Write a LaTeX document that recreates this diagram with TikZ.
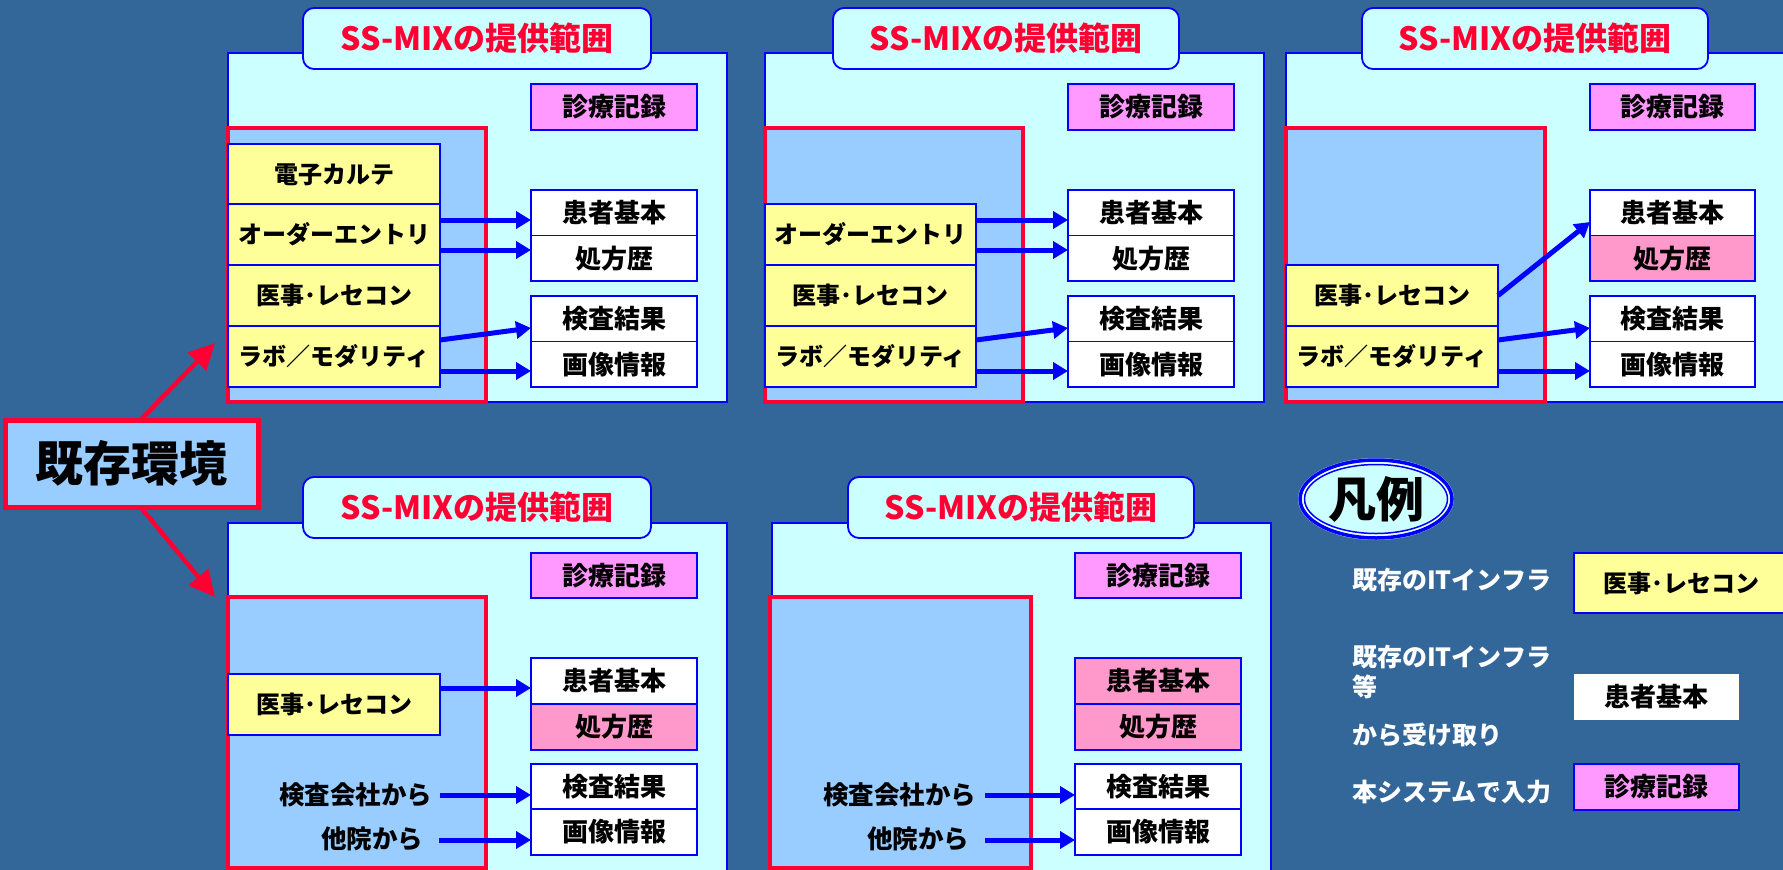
\documentclass[tikz,border=0pt]{standalone}
\usepackage{fontspec}
\setmainfont{Noto Sans CJK JP}
\usetikzlibrary{arrows.meta}
\definecolor{bg}{RGB}{51,102,153}
\definecolor{cyanbg}{RGB}{204,255,255}
\definecolor{lblue}{RGB}{153,204,255}
\definecolor{yel}{RGB}{255,255,153}
\definecolor{mag}{RGB}{255,153,255}
\definecolor{pnk}{RGB}{255,153,204}
\definecolor{rd}{RGB}{255,0,51}
\definecolor{bl}{RGB}{0,0,255}
\newcommand\fsz[1]{\fontsize{#1}{#1}\selectfont\bfseries}
\begin{document}
\begin{tikzpicture}[x=1pt,y=-1pt,
  every node/.style={inner sep=0pt, outer sep=0pt},
  outerbox/.style={draw=bl, fill=cyanbg, line width=1.8pt, anchor=north west},
  titlebox/.style={draw=bl, fill=cyanbg, line width=1.8pt, rounded corners=11pt, anchor=north west, minimum height=61pt, text=rd, font=\fsz{32}},
  rframe/.style={draw=rd, fill=lblue, line width=4.5pt, anchor=north west},
  ybox/.style={draw=bl, fill=yel, line width=1.6pt, anchor=north west, minimum height=61pt, font=\fsz{24}},
  wbox/.style={draw=bl, fill=white, line width=1.6pt, anchor=north west, minimum width=166pt, minimum height=45.5pt, font=\fsz{26}},
  mbox/.style={wbox, fill=mag, minimum height=46pt},
  pbox/.style={wbox, fill=pnk},
  lbl/.style={font=\fsz{25.5}, anchor=east},
  leglbl/.style={font=\fsz{25}, text=white, anchor=west},
  barrow/.style={draw=bl, line width=5pt, -{Triangle[length=15pt,width=17pt]}},
  rarrow/.style={draw=rd, line width=4.5pt, -{Triangle[length=26pt,width=25pt]}}
]
\useasboundingbox (0,0) rectangle (1783,870);
\fill[bg] (0,0) rectangle (1783,870);
\begin{scope}
\clip (0,0) rectangle (1783,870);
% ---------------- Panel A ----------------
\node[outerbox, minimum width=499pt, minimum height=349pt] (oA) at (228,53) {};
\node[titlebox, minimum width=348pt] (tA) at (303,8) {SS-MIXの提供範囲};
\node[mbox] (mA) at (531,84) {診療記録};
\node[rframe, minimum width=258pt, minimum height=274pt] (rA) at (228,128) {};
\node[ybox, minimum width=212pt] (yA1) at (228,144) {電子カルテ};
\node[ybox, minimum width=212pt] (yA2) at (228,204) {オーダーエントリ};
\node[ybox, minimum width=212pt] (yA3) at (228,265) {医事･レセコン};
\node[ybox, minimum width=212pt] (yA4) at (228,326) {ラボ／モダリティ};
\node[wbox] (wA1) at (531,190) {患者基本};
\node[wbox] (wA2) at (531,235.5) {処方歴};
\node[wbox] (wA3) at (531,296) {検査結果};
\node[wbox] (wA4) at (531,341.5) {画像情報};
\coordinate (sA1) at ([yshift=14.5pt]yA2.east);
\coordinate (sA2) at ([yshift=-15.5pt]yA2.east);
\coordinate (sA4) at ([yshift=-14.5pt]yA4.east);
\draw[barrow] (sA1) -- (wA1.west |- sA1);
\draw[barrow] (sA2) -- (wA2.west |- sA2);
\draw[barrow] ([yshift=16.5pt]yA4.east) -- ([yshift=-9.25pt]wA3.west);
\draw[barrow] (sA4) -- (wA4.west |- sA4);
% ---------------- Panel B ----------------
\node[outerbox, minimum width=499pt, minimum height=349pt] (oB) at (765,53) {};
\node[titlebox, minimum width=346pt] (tB) at (833,8) {SS-MIXの提供範囲};
\node[mbox] (mB) at (1068,84) {診療記録};
\node[rframe, minimum width=258pt, minimum height=274pt] (rB) at (765,128) {};
\node[ybox, minimum width=211pt] (yB2) at (765,204) {オーダーエントリ};
\node[ybox, minimum width=211pt] (yB3) at (765,265) {医事･レセコン};
\node[ybox, minimum width=211pt] (yB4) at (765,326) {ラボ／モダリティ};
\node[wbox] (wB1) at (1068,190) {患者基本};
\node[wbox] (wB2) at (1068,235.5) {処方歴};
\node[wbox] (wB3) at (1068,296) {検査結果};
\node[wbox] (wB4) at (1068,341.5) {画像情報};
\coordinate (sB1) at ([yshift=14.5pt]yB2.east);
\coordinate (sB2) at ([yshift=-15.5pt]yB2.east);
\coordinate (sB4) at ([yshift=-14.5pt]yB4.east);
\draw[barrow] (sB1) -- (wB1.west |- sB1);
\draw[barrow] (sB2) -- (wB2.west |- sB2);
\draw[barrow] ([yshift=16.5pt]yB4.east) -- ([yshift=-9.25pt]wB3.west);
\draw[barrow] (sB4) -- (wB4.west |- sB4);
% ---------------- Panel C ----------------
\node[outerbox, minimum width=520pt, minimum height=349pt] (oC) at (1286,53) {};
\node[titlebox, minimum width=346pt] (tC) at (1362,8) {SS-MIXの提供範囲};
\node[mbox, minimum width=165pt] (mC) at (1590,84) {診療記録};
\node[rframe, minimum width=259pt, minimum height=274pt] (rC) at (1286,128) {};
\node[ybox, minimum width=212pt] (yC3) at (1286,265) {医事･レセコン};
\node[ybox, minimum width=212pt] (yC4) at (1286,326) {ラボ／モダリティ};
\node[wbox, minimum width=165pt] (wC1) at (1590,190) {患者基本};
\node[pbox, minimum width=165pt] (wC2) at (1590,235.5) {処方歴};
\node[wbox, minimum width=165pt] (wC3) at (1590,296) {検査結果};
\node[wbox, minimum width=165pt] (wC4) at (1590,341.5) {画像情報};
\coordinate (sC4) at ([yshift=-14.5pt]yC4.east);
\draw[barrow] (yC3.east) -- ([yshift=-9.25pt]wC1.west);
\draw[barrow] ([yshift=16.5pt]yC4.east) -- ([yshift=-9.25pt]wC3.west);
\draw[barrow] (sC4) -- (wC4.west |- sC4);
% ---------------- Panel D ----------------
\node[outerbox, minimum width=499pt, minimum height=400pt] (oD) at (228,523) {};
\node[titlebox, minimum width=348pt] (tD) at (303,477) {SS-MIXの提供範囲};
\node[mbox, minimum height=45pt] (mD) at (531,553) {診療記録};
\node[rframe, minimum width=258pt, minimum height=271pt] (rD) at (228,597) {};
\node[ybox, minimum width=212pt] (yD) at (228,674) {医事･レセコン};
\node[wbox, minimum height=46pt] (wD1) at (531,658) {患者基本};
\node[pbox, minimum height=46pt] (wD2) at (531,704) {処方歴};
\node[wbox, minimum height=45pt] (wD3) at (531,764) {検査結果};
\node[wbox, minimum height=46pt] (wD4) at (531,809) {画像情報};
\node[lbl] (kD1) at (432,795) {検査会社から};
\node[lbl] (kD2) at (423,839) {他院から};
\coordinate (sD1) at ([yshift=16.5pt]yD.east);
\coordinate (sD2) at ([xshift=8pt]kD1.east);
\coordinate (sD3) at ([xshift=16pt,yshift=-1pt]kD2.east);
\draw[barrow] (sD1) -- (wD1.west |- sD1);
\draw[barrow] (sD2) -- (wD3.west |- sD2);
\draw[barrow] (sD3) -- (wD4.west |- sD3);
% ---------------- Panel E ----------------
\node[outerbox, minimum width=499pt, minimum height=400pt] (oE) at (772,523) {};
\node[titlebox, minimum width=346pt] (tE) at (848,477) {SS-MIXの提供範囲};
\node[mbox, minimum height=45pt] (mE) at (1075,553) {診療記録};
\node[rframe, minimum width=261pt, minimum height=271pt] (rE) at (770,597) {};
\node[pbox, minimum height=46pt] (wE1) at (1075,658) {患者基本};
\node[pbox, minimum height=46pt] (wE2) at (1075,704) {処方歴};
\node[wbox, minimum height=45pt] (wE3) at (1075,764) {検査結果};
\node[wbox, minimum height=46pt] (wE4) at (1075,809) {画像情報};
\node[lbl] (kE1) at (976,795) {検査会社から};
\node[lbl] (kE2) at (969,839) {他院から};
\coordinate (sE2) at ([xshift=9pt]kE1.east);
\coordinate (sE3) at ([xshift=16pt,yshift=-1pt]kE2.east);
\draw[barrow] (sE2) -- (wE3.west |- sE2);
\draw[barrow] (sE3) -- (wE4.west |- sE3);
% ---------------- 既存環境 ----------------
\node[draw=rd, fill=lblue, line width=5pt, anchor=north west, minimum width=253pt, minimum height=87pt, font=\fsz{48}] (kz) at (5,420) {既存環境};
\draw[rarrow] ([xshift=9pt]kz.north) -- ([xshift=-13pt,yshift=59pt]rA.south west);
\draw[rarrow] ([xshift=9pt]kz.south) -- ([xshift=-13pt]rD.north west);
% ---------------- Legend ----------------
\fill[cyanbg] (1376,499) ellipse (78pt and 41pt);
\draw[bl, line width=3.5pt] (1376,499) ellipse (76pt and 39pt);
\draw[white, line width=1.2pt] (1376,499) ellipse (73pt and 36pt);
\draw[bl, line width=1.5pt] (1376,499) ellipse (71.5pt and 34.5pt);
\node[font=\fsz{48}] (leg) at (1376,499) {凡例};
\node[leglbl] (l1) at (1352,580) {既存のITインフラ};
\node[leglbl] (l2) at (1352,657) {既存のITインフラ};
\node[leglbl] (l3) at (1352,687) {等};
\node[leglbl] (l4) at (1352,735) {から受け取り};
\node[leglbl] (l5) at (1352,792) {本システムで入力};
\node[ybox, minimum width=214pt, minimum height=60pt] (g1) at (1574,553) {医事･レセコン};
\node[wbox, draw=none, minimum width=165pt, minimum height=46pt] (g2) at (1574,674) {患者基本};
\node[mbox, minimum width=165pt] (g3) at (1574,764) {診療記録};
\end{scope}
\end{tikzpicture}
\end{document}
